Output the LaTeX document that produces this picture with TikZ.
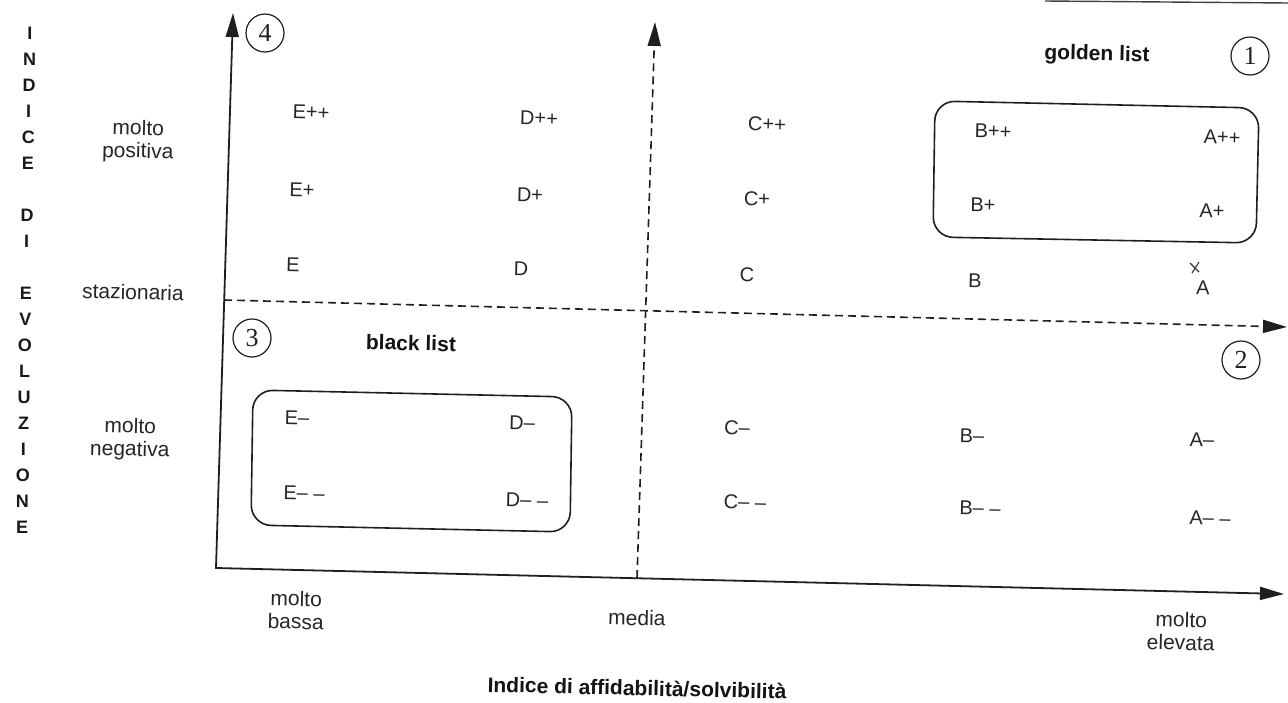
\documentclass[tikz,border=0pt]{standalone}
\usepackage{fontspec}
\setmainfont{Liberation Sans}
\newfontfamily\numfont{Liberation Serif}
\usetikzlibrary{arrows.meta}

\begin{document}
\begin{tikzpicture}[x=1pt,y=-1pt,
  >={Triangle[length=24pt,width=13pt]},
  ink/.style={draw=black!88, line width=1.8pt},
  lab/.style={text=black!85, font=\fontsize{20}{22}\selectfont, rotate=-1.3, inner sep=0pt},
  side/.style={text=black!85, font=\fontsize{21}{23}\selectfont, align=center, rotate=-1.3, inner sep=0pt},
  heading/.style={text=black!92, font=\bfseries\fontsize{21}{24}\selectfont, rotate=-1.3, inner sep=0pt},
  vlet/.style={text=black!90, font=\bfseries\fontsize{18}{18}\selectfont, inner sep=0pt},
  quad/.style={circle, draw=black!88, line width=1.2pt, minimum size=38pt, inner sep=0pt,
    text=black!88, font=\numfont\fontsize{26}{26}\selectfont},
  listbox/.style={draw=black!88, line width=1.6pt, rounded corners=20pt}
]
\useasboundingbox (0,0) rectangle (1288,702);

% solid axes
\coordinate (O) at (216,568);
\coordinate (Ytip) at (233,13);
\coordinate (Xtip) at (1284,594);
\draw[ink, <->, line join=miter] (Ytip) -- (O) -- (Xtip);

% dashed mid axes
\coordinate (Vb) at (637,578);
\coordinate (Vt) at (655,22);
\coordinate (Hl) at (224,300);
\coordinate (Hr) at (1287,327);
\draw[ink, line width=1.6pt, dash pattern=on 8pt off 5pt, ->] (Vb) -- (Vt);
\draw[ink, line width=1.6pt, dash pattern=on 8pt off 5pt, ->] (Hl) -- (Hr);

% edge of the page frame at the top
\coordinate (f1) at (1045,1);
\coordinate (f2) at (1288,3);
\draw[black!75, line width=1.4pt] (f1) -- (f2);

% vertical axis title, one letter per slot
\foreach \ch/\k in {I/0,N/1,D/2,I/3,C/4,E/5,D/7,I/8,E/10,V/11,O/12,L/13,U/14,Z/15,I/16,O/17,N/18,E/19}
  \node[vlet] (v\k) at ({30-0.42*\k},{33+26*\k}) {\ch};

% level labels
\node[side] (mpos) at (138,141) {molto\\positiva};
\node[side] (staz) at (133,292) {stazionaria};
\node[side] (mneg) at (130,439) {molto\\negativa};
\node[side] (mbas) at (296,610) {molto\\bassa};
\node[side] (med)  at (637,618) {media};
\node[side] (melv) at (1181,631) {molto\\elevata};
\node[heading] (xt) at (637,688) {Indice di affidabilità/solvibilità};

% quadrant numbers and list names
\node[quad] (q4) at (265,33) {4};
\node[quad] (q1) at (1250,56) {1};
\node[quad] (q3) at (252,338) {3};
\node[quad] (q2) at (1241,360) {2};
\node[heading] (gl) at (1097,55) {golden list};
\node[heading] (bl) at (411,343) {black list};

% rating grid
\node[lab] (Epp) at (311,112) {E++};
\node[lab] (Dpp) at (539,118) {D++};
\node[lab] (Cpp) at (767,124) {C++};
\node[lab] (Bpp) at (993,131) {B++};
\node[lab] (App) at (1222,137) {A++};
\node[lab] (Ep) at (302,190) {E+};
\node[lab] (Dp) at (530,195) {D+};
\node[lab] (Cp) at (757,199) {C+};
\node[lab] (Bp) at (983,205) {B+};
\node[lab] (Ap) at (1212,211) {A+};
\node[lab] (E0) at (293,265) {E};
\node[lab] (D0) at (521,269) {D};
\node[lab] (C0) at (747,275) {C};
\node[lab] (B0) at (975,281) {B};
\node[lab] (A0) at (1203,288) {A};
\node[lab] (Em) at (297,418) {E–};
\node[lab] (Dm) at (522,423) {D–};
\node[lab] (Cm) at (737,428) {C–};
\node[lab] (Bm) at (972,436) {B–};
\node[lab] (Am) at (1202,440) {A–};
\node[lab] (Emm) at (304,493) {E– –};
\node[lab] (Dmm) at (527,500) {D– –};
\node[lab] (Cmm) at (745,502) {C– –};
\node[lab] (Bmm) at (980,508) {B– –};
\node[lab] (Amm) at (1210,518) {A– –};

% small pen mark above A
\coordinate (k1) at (1190,263);
\coordinate (k2) at (1199,272);
\coordinate (k3) at (1192,273);
\coordinate (k4) at (1199,262);
\draw[black!80, line width=1.1pt] (k1) -- (k2) (k3) -- (k4);

% golden list frame
\coordinate (g1) at (935,101);
\coordinate (g2) at (1259,108);
\coordinate (g3) at (1256,243);
\coordinate (g4) at (933,237);
\draw[listbox] (g1) -- (g2) -- (g3) -- (g4) -- cycle;

% black list frame
\coordinate (b1) at (253,390);
\coordinate (b2) at (572,397);
\coordinate (b3) at (570,532);
\coordinate (b4) at (251,525);
\draw[listbox] (b1) -- (b2) -- (b3) -- (b4) -- cycle;
\end{tikzpicture}
\end{document}
